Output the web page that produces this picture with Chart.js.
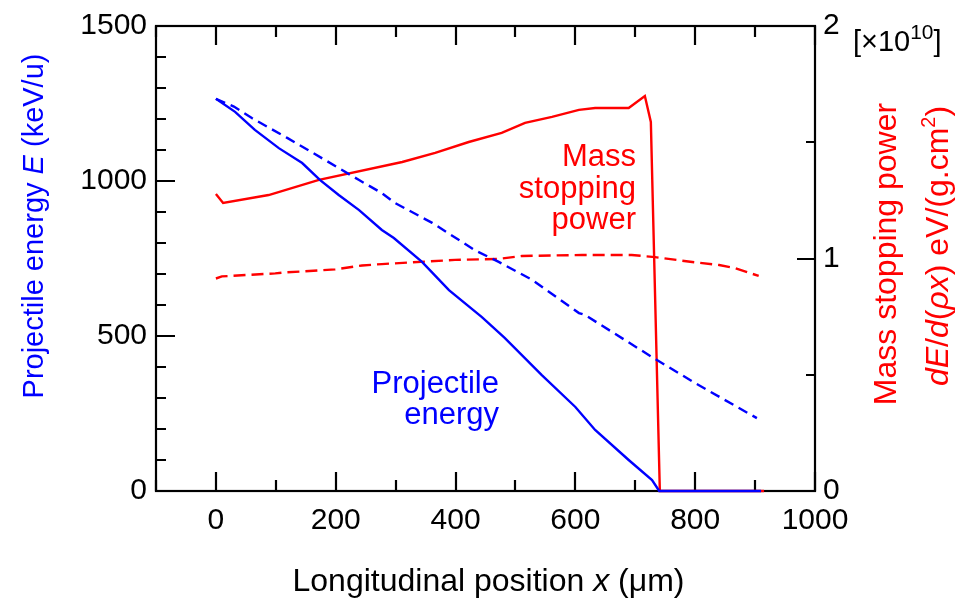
<!DOCTYPE html>
<html>
<head>
<meta charset="utf-8">
<script src="https://cdn.jsdelivr.net/npm/chart.js@4.4.1/dist/chart.umd.min.js"></script>
<style>
  html, body { margin: 0; padding: 0; background: #fff; }
  #wrap { width: 958px; height: 598px; }
</style>
</head>
<body>
<div id="wrap"><canvas id="chart" width="958" height="598"></canvas></div>
<script>
// projectile energy (keV/u), solid = first run, dashed = second run
const energyX = [0, 32, 65, 105, 144, 174, 205, 239, 277, 297, 344, 389, 444, 482, 544, 600, 633, 689, 728, 740, 910];
const energyE = [1265, 1223, 1165, 1106, 1058, 1003, 955, 906, 842, 816, 739, 648, 561, 494, 374, 271, 197, 100, 35, 0, 0];
const energyDashX = [0, 30, 60, 119, 182, 239, 277, 299, 361, 432, 472, 528, 606, 616, 728, 800, 903];
const energyDashE = [1265, 1240, 1203, 1139, 1068, 1003, 961, 929, 865, 777, 739, 681, 574, 568, 432, 348, 235];

// mass stopping power, in units of 1e10 eV/(g.cm2)
const stopX = [0, 12, 88, 172, 311, 366, 422, 477, 516, 561, 606, 633, 689, 716, 726, 741, 915];
const stopS = [1.277, 1.239, 1.273, 1.338, 1.415, 1.454, 1.501, 1.540, 1.583, 1.609, 1.639, 1.647, 1.647, 1.699, 1.587, 0, 0];
const stopDashX = [0, 10, 99, 115, 199, 244, 277, 399, 472, 511, 611, 694, 733, 795, 840, 866, 906];
const stopDashS = [0.914, 0.923, 0.936, 0.94, 0.953, 0.97, 0.976, 0.994, 0.998, 1.011, 1.015, 1.015, 1.006, 0.985, 0.972, 0.959, 0.925];

// tick labels
const xLabels = [0, 200, 400, 600, 800, 1000];
const energyLabels = [0, 500, 1000, 1500];
const stopLabels = [0, 1, 2];

const FONT = '"Liberation Sans", Arial, sans-serif';
const BLUE = '#0000ff';
const RED = '#ff0000';

function pts(xs, ys) {
  return xs.map((x, i) => ({ x: x, y: ys[i] }));
}

// draw a line of text made of parts with their own style
function rich(ctx, parts, x, y, size, align, supRatio) {
  const sr = supRatio || 0.62;
  let w = 0;
  parts.forEach(p => {
    const s = p.sup ? size * sr : size;
    ctx.font = (p.it ? 'italic ' : '') + s + 'px ' + FONT;
    p.w = ctx.measureText(p.t).width;
    w += p.w;
  });
  let cx = x;
  if (align === 'center') cx = x - w / 2;
  if (align === 'right') cx = x - w;
  ctx.textAlign = 'left';
  ctx.textBaseline = 'alphabetic';
  parts.forEach(p => {
    const s = p.sup ? size * sr : size;
    ctx.font = (p.it ? 'italic ' : '') + s + 'px ' + FONT;
    ctx.fillText(p.t, cx, p.sup ? y - size * 0.42 : y);
    cx += p.w;
  });
}

const frame = {
  id: 'frame',
  beforeDatasetsDraw(chart) {
    const { ctx, chartArea: a, scales } = chart;
    ctx.save();
    ctx.strokeStyle = '#000';
    ctx.lineWidth = 2.2;
    ctx.strokeRect(a.left, a.top, a.right - a.left, a.bottom - a.top);
    ctx.beginPath();
    for (let v = -100; v <= 1000; v += 100) {
      const px = Math.round(scales.x.getPixelForValue(v));
      const len = xLabels.includes(v) ? 19 : 11;
      ctx.moveTo(px, a.bottom); ctx.lineTo(px, a.bottom - len);
      ctx.moveTo(px, a.top); ctx.lineTo(px, a.top + len);
    }
    for (let v = 0; v <= 1500; v += 100) {
      const py = Math.round(scales.y.getPixelForValue(v));
      const len = energyLabels.includes(v) ? 19 : 10;
      ctx.moveTo(a.left, py); ctx.lineTo(a.left + len, py);
    }
    for (let v = 0; v <= 2; v += 0.5) {
      const py = Math.round(scales.y2.getPixelForValue(v));
      const len = stopLabels.includes(v) ? 18 : 9;
      ctx.moveTo(a.right, py); ctx.lineTo(a.right - len, py);
    }
    ctx.stroke();
    ctx.restore();
  },
  afterDraw(chart) {
    const { ctx, chartArea: a } = chart;
    ctx.save();

    // x axis title
    ctx.fillStyle = '#000';
    rich(ctx, [
      { t: 'Longitudinal position ' },
      { t: 'x', it: true },
      { t: ' (\u03bcm)' }
    ], (a.left + a.right) / 2 + 3, 591, 32, 'center');

    // left axis title
    ctx.save();
    ctx.translate(43, 226);
    ctx.rotate(-Math.PI / 2);
    ctx.fillStyle = BLUE;
    rich(ctx, [
      { t: 'Projectile energy ' },
      { t: 'E', it: true },
      { t: ' (keV/u)' }
    ], 0, 0, 29, 'center');
    ctx.restore();

    // right axis title, two lines
    ctx.save();
    ctx.translate(896, 254);
    ctx.rotate(-Math.PI / 2);
    ctx.fillStyle = RED;
    rich(ctx, [{ t: 'Mass stopping power' }], 0, 0, 32, 'center');
    rich(ctx, [
      { t: 'dE', it: true },
      { t: '/' },
      { t: 'd', it: true },
      { t: '(' },
      { t: '\u03c1x', it: true },
      { t: ') eV/(g.cm' },
      { t: '2', sup: true },
      { t: ')' }
    ], 8, 52, 32, 'center');
    ctx.restore();

    // exponent of right axis
    ctx.fillStyle = '#000';
    rich(ctx, [
      { t: '[\u00d710' },
      { t: '10', sup: true },
      { t: ']' }
    ], 853, 51, 29, 'left', 0.72);

    // curve annotations
    ctx.fillStyle = RED;
    ctx.font = '31px ' + FONT;
    ctx.textAlign = 'right';
    ctx.textBaseline = 'alphabetic';
    ctx.fillText('Mass', 636, 166);
    ctx.fillText('stopping', 636, 198);
    ctx.fillText('power', 636, 229);

    ctx.fillStyle = BLUE;
    ctx.fillText('Projectile', 499, 393);
    ctx.fillText('energy', 499, 424);

    ctx.restore();
  }
};

const ctx = document.getElementById('chart').getContext('2d');

const line = (data, color, axis, dash) => ({
  data: data,
  borderColor: color,
  borderWidth: 2.4,
  borderDash: dash || [],
  pointRadius: 0,
  tension: 0,
  fill: false,
  yAxisID: axis,
  clip: 3
});

new Chart(ctx, {
  type: 'line',
  data: {
    datasets: [
      line(pts(energyDashX, energyDashE), BLUE, 'y', [10, 6]),
      line(pts(energyX, energyE), BLUE, 'y'),
      line(pts(stopDashX, stopDashS), RED, 'y2', [12, 6]),
      line(pts(stopX, stopS), RED, 'y2')
    ]
  },
  options: {
    responsive: false,
    animation: false,
    layout: { padding: { top: 26, left: 0, right: 0, bottom: 0 } },
    plugins: {
      legend: { display: false },
      tooltip: { enabled: false }
    },
    scales: {
      x: {
        type: 'linear',
        min: -100,
        max: 1000,
        grid: { display: false },
        border: { display: false },
        ticks: {
          stepSize: 100,
          autoSkip: false,
          maxRotation: 0,
          padding: 4,
          color: '#000',
          font: { family: FONT, size: 30 },
          callback: v => xLabels.includes(v) ? v : ''
        },
        afterFit: s => { s.height = 107; }
      },
      y: {
        position: 'left',
        min: 0,
        max: 1500,
        grid: { display: false },
        border: { display: false },
        ticks: {
          stepSize: 100,
          autoSkip: false,
          padding: 1,
          color: '#000',
          font: { family: FONT, size: 30 },
          callback: v => energyLabels.includes(v) ? v : ''
        },
        afterFit: s => { s.width = 156; }
      },
      y2: {
        position: 'right',
        min: 0,
        max: 2,
        grid: { display: false },
        border: { display: false },
        ticks: {
          stepSize: 0.5,
          autoSkip: false,
          padding: 0,
          color: '#000',
          font: { family: FONT, size: 30 },
          callback: v => stopLabels.includes(v) ? v : ''
        },
        afterFit: s => { s.width = 143; }
      }
    }
  },
  plugins: [frame]
});
</script>
</body>
</html>
